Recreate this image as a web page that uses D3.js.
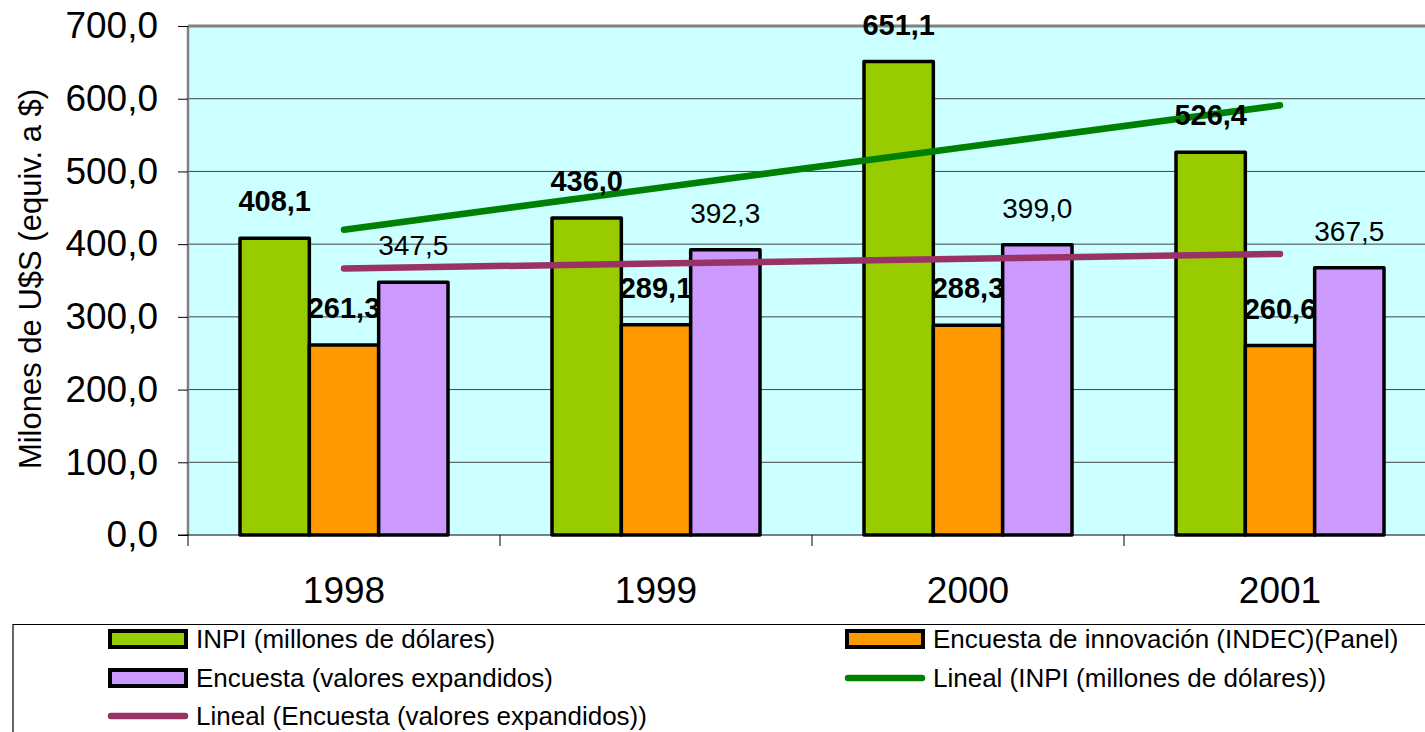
<!DOCTYPE html>
<html>
<head>
<meta charset="utf-8">
<script src="https://cdn.jsdelivr.net/npm/d3@7"></script>
<style>
  html, body { margin: 0; padding: 0; background: #fff; overflow: hidden; }
  svg { display: block; font-family: "Liberation Sans", Arial, sans-serif; }
</style>
</head>
<body>
<svg id="chart" width="1425" height="732"></svg>
<script>
// ---- data ----
const years = ["1998", "1999", "2000", "2001"];
const inpi = [408.1, 436.0, 651.1, 526.4];
const indec = [261.3, 289.1, 288.3, 260.6];
const encuesta = [347.5, 392.3, 399.0, 367.5];
const yTicks = [0, 100, 200, 300, 400, 500, 600, 700];
const seriesNames = ["INPI (millones de dólares)", "Encuesta de innovación (INDEC)(Panel)", "Encuesta (valores expandidos)"];
const trendNames = ["Lineal (INPI (millones de dólares))", "Lineal (Encuesta (valores expandidos))"];
const yTitle = "Milones de U$S (equiv. a $)";

const colors = { inpi: "#99CC00", indec: "#FF9900", enc: "#CC99FF", bg: "#CCFFFF", trendInpi: "#008000", trendEnc: "#993366" };

const svg = d3.select("#chart");
const pLeft = 188, pRight = 1436, pTop = 26, pBottom = 535;

const x0 = d3.scaleBand().domain(years).range([pLeft, pRight]).paddingInner(0).paddingOuter(0);
const x1 = d3.scaleBand().domain([0, 1, 2]).range([0, x0.bandwidth()]).paddingInner(0).paddingOuter(0.75);
const y = d3.scaleLinear().domain([0, 700]).range([pBottom, pTop]);

const fmt = v => d3.format(".1f")(v).replace(".", ",");

// plot background
svg.append("rect").attr("x", pLeft).attr("y", pTop).attr("width", pRight - pLeft).attr("height", pBottom - pTop).attr("fill", colors.bg);

// gridlines
svg.append("g").selectAll("line").data(yTicks.filter(t => t > 0 && t < 700)).join("line")
  .attr("x1", pLeft).attr("x2", pRight).attr("y1", d => y(d)).attr("y2", d => y(d))
  .attr("stroke", "#404040").attr("stroke-width", 1);

// plot border (top, left)
svg.append("line").attr("x1", pLeft).attr("x2", pRight).attr("y1", y(700)).attr("y2", y(700)).attr("stroke", "#808080").attr("stroke-width", 3);
svg.append("line").attr("x1", pLeft).attr("x2", pLeft).attr("y1", y(700)).attr("y2", pBottom).attr("stroke", "#808080").attr("stroke-width", 2.5);

// y axis
const yAxis = d3.axisLeft(y).tickValues(yTicks).tickSize(10).tickPadding(20).tickFormat(fmt);
const gy = svg.append("g").attr("transform", `translate(${pLeft},0)`).call(yAxis);
gy.select(".domain").remove();
gy.selectAll(".tick line").attr("stroke", "#000");
gy.selectAll(".tick text").attr("font-size", 37).attr("fill", "#000").attr("font-family", "Liberation Sans, Arial, sans-serif");

// x axis
svg.append("line").attr("x1", 178).attr("x2", pRight).attr("y1", pBottom).attr("y2", pBottom).attr("stroke", "#000").attr("stroke-width", 1.2);
const bounds = years.map(d => x0(d)).concat([pRight]);
svg.append("g").selectAll("line").data(bounds).join("line")
  .attr("x1", d => d).attr("x2", d => d).attr("y1", pBottom).attr("y2", pBottom + 11)
  .attr("stroke", "#000").attr("stroke-width", 1);
svg.append("g").selectAll("text").data(years).join("text")
  .attr("x", d => x0(d) + x0.bandwidth() / 2).attr("y", 603)
  .attr("text-anchor", "middle").attr("font-size", 37).text(d => d);

// y title
svg.append("text").attr("transform", `translate(41,279) rotate(-90)`)
  .attr("text-anchor", "middle").attr("font-size", 31).text(yTitle);

function bars(data, idx, color) {
  svg.append("g").selectAll("rect").data(data).join("rect")
    .attr("x", (d, i) => x0(years[i]) + x1(idx))
    .attr("y", d => y(d))
    .attr("width", x1.bandwidth())
    .attr("height", d => pBottom - y(d))
    .attr("fill", color).attr("stroke", "#000").attr("stroke-width", 3.5).attr("stroke-linejoin", "round");
}
function labels(data, idx, bold) {
  svg.append("g").selectAll("text").data(data).join("text")
    .attr("x", (d, i) => x0(years[i]) + x1(idx) + x1.bandwidth() / 2)
    .attr("y", d => y(d) - 27)
    .attr("text-anchor", "middle")
    .attr("font-size", bold ? 29 : 28)
    .attr("font-weight", bold ? "bold" : "normal")
    .text(d => fmt(d));
}

bars(inpi, 0, colors.inpi);
bars(indec, 1, colors.indec);
labels(indec, 1, true);
bars(encuesta, 2, colors.enc);

// linear trendlines (least squares on the series)
function trend(data) {
  const xs = data.map((d, i) => i + 1);
  const mx = d3.mean(xs), my = d3.mean(data);
  const slope = d3.sum(xs.map((xv, i) => (xv - mx) * (data[i] - my))) / d3.sum(xs.map(xv => (xv - mx) ** 2));
  const b = my - slope * mx;
  return xs.map(xv => b + slope * xv);
}
const trendLine = d3.line().x((d, i) => x0(years[i]) + x0.bandwidth() / 2).y(d => y(d));
[[trend(inpi), colors.trendInpi], [trend(encuesta), colors.trendEnc]].forEach(([t, c]) => {
  svg.append("path")
    .attr("d", trendLine(t))
    .attr("fill", "none").attr("stroke", c).attr("stroke-width", 6.5).attr("stroke-linecap", "round");
});

labels(inpi, 0, true);
labels(encuesta, 2, false);

// legend
const lg = svg.append("g");
lg.append("path").attr("d", "M13,732 L13,624.5 L1425,624.5").attr("fill", "none").attr("stroke", "#000").attr("stroke-width", 1.2);
const legendItems = [
  { name: seriesNames[0], type: "rect", color: colors.inpi, x: 108, y: 639 },
  { name: seriesNames[1], type: "rect", color: colors.indec, x: 845, y: 639 },
  { name: seriesNames[2], type: "rect", color: colors.enc, x: 108, y: 678 },
  { name: trendNames[0], type: "line", color: colors.trendInpi, x: 845, y: 678 },
  { name: trendNames[1], type: "line", color: colors.trendEnc, x: 108, y: 716 }
];
legendItems.forEach(it => {
  if (it.type === "rect") {
    lg.append("rect").attr("x", it.x + 2).attr("y", it.y - 8).attr("width", 76).attr("height", 16)
      .attr("fill", it.color).attr("stroke", "#000").attr("stroke-width", 4);
  } else {
    lg.append("line").attr("x1", it.x + 3).attr("x2", it.x + 77).attr("y1", it.y).attr("y2", it.y)
      .attr("stroke", it.color).attr("stroke-width", 6.5).attr("stroke-linecap", "round");
  }
  lg.append("text").attr("x", it.x + 88).attr("y", it.y + 9).attr("font-size", 26).text(it.name);
});
</script>
</body>
</html>
